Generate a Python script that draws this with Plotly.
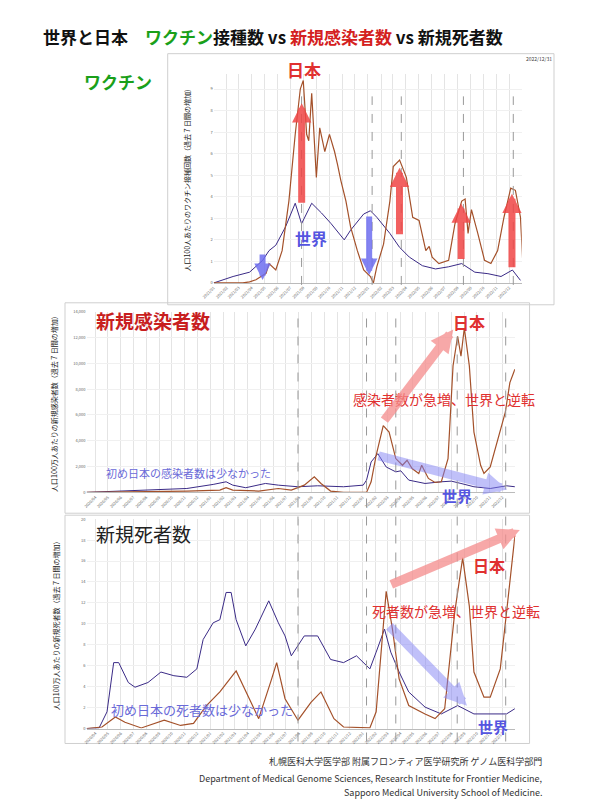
import plotly.graph_objects as go
import pandas as pd

W, H = 591, 800
def px(x): return x / W
def py(y): return 1 - y / H

# ---------- data ----------
vac_start = "2021-01-01"
vac_world_days = [0,46,85,116,131,147,170,193,208,232,255,278,309,324,355,371,386,417,440,463,494,525,556,587,618,649,680,707,726]
vac_world = [0,0.3,0.5,1.05,1.5,1.75,2.6,3.7,2.75,3.7,3.25,2.75,2.0,2.45,3.2,3.35,3.05,2.3,1.65,1.2,0.8,0.65,0.75,0.9,0.5,0.43,0.3,0.6,0.12]
vac_japan_days = [0,69,85,100,124,131,147,162,178,193,205,212,220,225,232,243,251,263,274,286,293,301,313,324,340,355,371,378,386,402,417,425,440,456,471,486,502,510,517,533,556,571,587,595,602,610,625,641,656,672,687,703,714,726,732]
vac_japan = [0,0,0.05,0.15,0.45,0.9,0.6,1.5,3.8,6.9,9.0,9.4,6.9,6.6,8.8,4.9,7.2,6.1,6.9,6.1,5.5,4.75,3.8,2.6,1.5,0.6,0.3,0.0,0.75,1.8,3.8,5.4,5.7,4.9,3.05,2.9,1.5,1.7,1.2,0.9,1.05,2.75,3.8,3.9,2.3,3.4,2.3,1.05,0.9,1.5,3.05,4.4,4.3,3.05,0.75]

case_start = "2020-03-11"
case_world_days = [0,147,240,303,334,350,381,428,459,506,553,615,662,670,681,697,717,740,752,771,810,849,873,896,927,966,1005,1025]
case_world = [0,180,300,615,820,560,360,690,560,435,510,435,560,950,2360,3000,1970,1590,1670,950,690,820,870,690,435,300,510,435]
case_japan_days = [0,147,240,319,334,350,412,459,490,521,545,561,584,615,670,681,693,710,724,740,756,767,779,795,802,818,834,849,865,877,888,896,904,916,927,943,951,966,990,1002,1013,1025]
case_japan = [0,50,100,180,360,180,100,300,180,560,1200,690,100,0,0,820,2870,5180,4670,2620,2100,2490,1850,1460,2100,1080,770,820,2620,9800,12100,10560,12740,9800,4670,2100,1460,1970,4670,6200,8510,9540]

death_world_days = [0,30,49,65,77,100,116,147,178,209,240,264,279,303,319,334,346,358,381,404,436,459,475,490,521,553,584,615,646,678,693,713,728,748,771,810,849,888,927,966,1005,1025]
death_world = [0,0.06,1.6,6.3,6.3,4.4,3.95,4.4,5.4,5.05,4.9,5.7,8.5,10.1,10.4,13.0,13.0,10.4,7.9,9.5,12.2,10.1,8.85,6.95,8.85,8.85,6.6,6.3,6.95,5.7,7.3,9.5,7.3,5.4,3.5,2.05,1.4,2.2,1.4,1.4,1.4,1.9]
death_japan_days = [0,37,69,92,131,186,225,256,287,319,358,381,412,443,455,475,506,537,561,592,615,678,693,717,732,748,771,810,834,857,881,900,916,927,951,966,990,1005,1025]
death_japan = [0,0.15,1.1,0.6,0.06,0.8,0.3,0.5,2.2,3.5,5.5,3.5,0.95,4.75,6.3,2.85,0.8,2.5,3.5,0.95,0.15,0.06,1.6,13.1,9.5,4.75,2.2,1.4,0.95,1.9,11.1,16.3,11.7,5.4,3.0,3.0,5.7,11.1,18.4]

vac_vlines = [208, 375, 444, 591, 709]
case_vlines = [506, 670, 740, 887, 1003]

WORLD = "#3a2a86"
JAPAN = "#a4512a"

def dates(start, days):
    return pd.Timestamp(start) + pd.to_timedelta(days, unit="D")

fig = go.Figure()
fig.add_trace(go.Scatter(x=dates(vac_start, vac_world_days), y=vac_world, mode="lines", line=dict(color=WORLD, width=1), xaxis="x", yaxis="y"))
fig.add_trace(go.Scatter(x=dates(vac_start, vac_japan_days), y=vac_japan, mode="lines", line=dict(color=JAPAN, width=1.2), xaxis="x", yaxis="y"))
fig.add_trace(go.Scatter(x=dates(case_start, case_world_days), y=case_world, mode="lines", line=dict(color=WORLD, width=1), xaxis="x2", yaxis="y2"))
fig.add_trace(go.Scatter(x=dates(case_start, case_japan_days), y=case_japan, mode="lines", line=dict(color=JAPAN, width=1.2), xaxis="x2", yaxis="y2"))
fig.add_trace(go.Scatter(x=dates(case_start, death_world_days), y=death_world, mode="lines", line=dict(color=WORLD, width=1), xaxis="x3", yaxis="y3"))
fig.add_trace(go.Scatter(x=dates(case_start, death_japan_days), y=death_japan, mode="lines", line=dict(color=JAPAN, width=1.2), xaxis="x3", yaxis="y3"))

xcommon = dict(type="date", dtick="M1", tickformat="%Y/%m", tickangle=-45, tickfont=dict(size=4, color="#666"),
               showgrid=True, gridcolor="#e4e4e4", gridwidth=1, showline=True, linecolor="#bbb", zeroline=False)
ycommon = dict(tickfont=dict(size=4, color="#666"), showgrid=True, gridcolor="#f0f0f0", zeroline=False, showline=False)

fig.update_layout(
    width=W, height=H, margin=dict(l=0, r=0, t=0, b=0), paper_bgcolor="white", plot_bgcolor="white",
    showlegend=False,
    xaxis=dict(domain=[px(197), px(512)], range=["2021-01-01", "2022-12-31"], anchor="y", **xcommon),
    yaxis=dict(domain=[py(273), py(62)], range=[0, 9.72], dtick=1, anchor="x",
               title=dict(text="人口100人あたりのワクチン接種回数（過去７日間の増加）", font=dict(size=7, color="#222"), standoff=18), **ycommon),
    xaxis2=dict(domain=[px(67), px(505)], range=[case_start, "2022-12-31"], anchor="y2", **xcommon),
    yaxis2=dict(domain=[py(484), py(302)], range=[0, 14000], dtick=2000, tickformat=",", anchor="x2",
                title=dict(text="人口100万人あたりの新規感染者数（過去７日間の増加）", font=dict(size=7, color="#222"), standoff=14), **ycommon),
    xaxis3=dict(domain=[px(67), px(505)], range=[case_start, "2022-12-31"], anchor="y3", **xcommon),
    yaxis3=dict(domain=[py(722), py(511)], range=[0, 20], dtick=2, anchor="x3",
                title=dict(text="人口100万人あたりの新規死者数（過去７日間の増加）", font=dict(size=7, color="#222"), standoff=20), **ycommon),
    font=dict(family="Noto Sans CJK JP"),
)

shapes = []
for (x0, y0, x1, y1) in [(150, 42, 545, 295), (45, 293, 520, 505), (45, 507, 520, 737)]:
    shapes.append(dict(type="rect", xref="paper", yref="paper", x0=px(x0), x1=px(x1), y0=py(y1), y1=py(y0),
                       line=dict(color="#cfcfcf", width=1), fillcolor="rgba(0,0,0,0)", layer="below"))
for d in vac_vlines:
    t = dates(vac_start, d)
    shapes.append(dict(type="line", xref="x", yref="paper", x0=t, x1=t, y0=py(275), y1=py(85),
                       line=dict(color="#999", width=1, dash="dash")))
for d in case_vlines:
    t = dates(case_start, d)
    shapes.append(dict(type="line", xref="x2", yref="paper", x0=t, x1=t, y0=py(735), y1=py(300),
                       line=dict(color="#999", width=1, dash="dash")))
fig.update_layout(shapes=shapes)

ann = []
def text(x, y, s, size, color, bold=True, xanchor="left"):
    ann.append(dict(xref="paper", yref="paper", x=px(x), y=py(y), text=(f"<b>{s}</b>" if bold else s),
                    showarrow=False, font=dict(size=size, color=color), xanchor=xanchor, yanchor="middle"))
def arrow(x0, y0, x1, y1, color, width, size):
    ann.append(dict(xref="paper", yref="paper", x=px(x1), y=py(y1), ax=x0 - x1, ay=y0 - y1,
                    text="", showarrow=True, arrowhead=2, arrowsize=size, arrowwidth=width, arrowcolor=color))

RED = "#e03030"
BLUE = "#5555e0"
ann.append(dict(xref="paper", yref="paper", x=px(20), y=py(25), xanchor="left", yanchor="middle", showarrow=False,
                text="<b>世界と日本　<span style='color:#1aa01a'>ワクチン</span>接種数 vs <span style='color:#d42020'>新規感染者数</span> vs 新規死者数</b>",
                font=dict(size=17, color="#111")))
text(62, 70, "ワクチン", 17, "#1aa01a")
text(270, 58, "日本", 17, RED)
text(278, 228, "世界", 16, BLUE)
text(545, 47, "2022/12/31", 5, "#444", bold=False, xanchor="right")
text(75, 311, "新規感染者数", 19, "#c81e1e")
text(440, 312, "日本", 16, RED)
text(337, 390, "感染者数が急増、世界と逆転", 14, RED, bold=False)
text(85, 464, "初め日本の感染者数は少なかった", 11, "#6a6ad8", bold=False)
text(428, 487, "世界", 15, BLUE)
text(75, 525, "新規死者数", 19, "#222", bold=False)
text(460, 557, "日本", 16, RED)
text(357, 604, "死者数が急増、世界と逆転", 14, RED, bold=False)
text(90, 703, "初め日本の死者数は少なかった", 13, "#6a6ad8", bold=False)
text(465, 720, "世界", 15, BLUE)
text(535, 755, "札幌医科大学医学部 附属フロンティア医学研究所 ゲノム医科学部門", 9, "#333", bold=False, xanchor="right")
text(535, 772, "Department of Medical Genome Sciences, Research Institute for Frontier Medicine,", 9, "#333", bold=False, xanchor="right")
text(535, 786, "Sapporo Medical University School of Medicine.", 9, "#333", bold=False, xanchor="right")

arrow(287, 193, 287, 92, "rgba(240,70,70,0.85)", 7, 0.55)
arrow(387, 225, 387, 157, "rgba(240,70,70,0.85)", 7, 0.55)
arrow(450, 250, 450, 193, "rgba(240,70,70,0.85)", 7, 0.55)
arrow(502, 258, 502, 183, "rgba(240,70,70,0.85)", 7, 0.55)
arrow(247, 243, 247, 270, "rgba(110,110,240,0.85)", 6, 0.55)
arrow(356, 205, 356, 265, "rgba(110,110,240,0.85)", 6, 0.55)
arrow(372, 412, 442, 320, "rgba(245,140,140,0.75)", 9, 0.5)
arrow(367, 447, 497, 481, "rgba(130,130,245,0.5)", 9, 0.5)
arrow(380, 577, 510, 522, "rgba(245,140,140,0.75)", 9, 0.5)
arrow(377, 618, 456, 699, "rgba(130,130,245,0.5)", 9, 0.5)
fig.update_layout(annotations=ann)

fig.write_html("out.html")
